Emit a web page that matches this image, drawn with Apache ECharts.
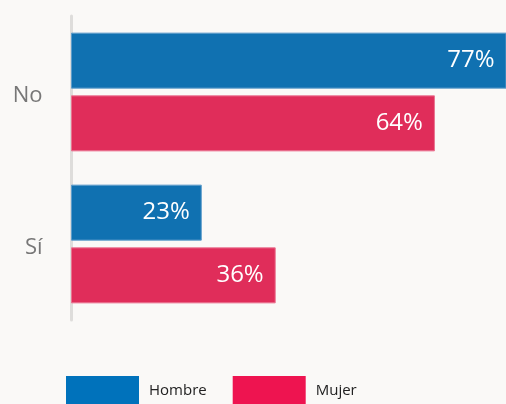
<!DOCTYPE html>
<html>
<head>
<meta charset="utf-8">
<script src="https://cdn.jsdelivr.net/npm/echarts@6/dist/echarts.min.js"></script>
<style>
  html, body { margin: 0; padding: 0; background: #FAF9F7; }
  #chart { width: 506px; height: 404px; }
</style>
</head>
<body>
<div id="chart"></div>
<script>
// Respuestas por sexo (porcentaje)
const categories = ['No', 'Sí'];
const hombre = [77, 23];
const mujer = [64, 36];
const seriesNames = ['Hombre', 'Mujer'];

const chart = echarts.init(document.getElementById('chart'));

const barLabel = {
  show: true,
  position: 'insideRight',
  distance: 12,
  formatter: '{c}%',
  color: '#FFFFFF',
  fontSize: 24,
  fontFamily: 'Open Sans'
};

chart.setOption({
  backgroundColor: '#FAF9F7',
  animation: false,
  grid: { left: 71, right: 0, top: 16, bottom: 84 },
  xAxis: {
    type: 'value',
    min: 0,
    max: 76.5,
    show: false
  },
  yAxis: {
    type: 'category',
    data: categories,
    inverse: true,
    offset: 1.5,
    axisLine: { show: true, lineStyle: { color: '#DEDDDB', width: 3 } },
    axisTick: { show: false },
    axisLabel: {
      margin: 27,
      formatter: '{cat|{value}}',
      rich: {
        cat: {
          color: '#777777',
          fontSize: 22,
          fontFamily: 'Open Sans',
          padding: [7, 0, 0, 0]
        }
      }
    }
  },
  legend: {
    left: 66,
    top: 376,
    padding: 0,
    itemWidth: 73,
    itemHeight: 30,
    itemGap: 26,
    icon: 'rect',
    textStyle: {
      color: '#222222',
      fontSize: 15,
      fontFamily: 'Open Sans',
      padding: [0, 0, 0, 5]
    },
    data: [
      { name: seriesNames[0], itemStyle: { color: '#0072BB', borderWidth: 0 } },
      { name: seriesNames[1], itemStyle: { color: '#EE1450', borderWidth: 0 } }
    ]
  },
  series: [
    {
      name: seriesNames[0],
      type: 'bar',
      data: hombre,
      barWidth: 56,
      barGap: '12%',
      itemStyle: { color: '#1071B1', borderColor: '#5E9DCB', borderWidth: 1 },
      label: barLabel
    },
    {
      name: seriesNames[1],
      type: 'bar',
      data: mujer,
      barWidth: 56,
      itemStyle: { color: '#E02D5A', borderColor: '#EA7390', borderWidth: 1 },
      label: barLabel
    }
  ]
});
</script>
</body>
</html>
